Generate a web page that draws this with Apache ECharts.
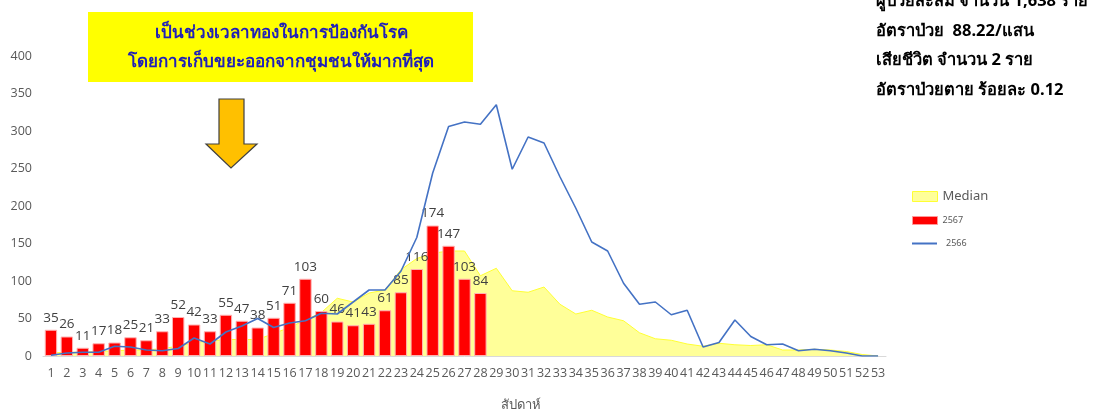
<!DOCTYPE html>
<html>
<head>
<meta charset="utf-8">
<script src="https://cdn.jsdelivr.net/npm/echarts@6/dist/echarts.min.js"></script>
<style>
html,body{margin:0;padding:0;background:#fff;}
#c{width:1094px;height:412px;}
</style>
</head>
<body>
<div id="c"></div>
<script>
const weeks = ['1','2','3','4','5','6','7','8','9','10','11','12','13','14','15','16','17','18','19','20','21','22','23','24','25','26','27','28','29','30','31','32','33','34','35','36','37','38','39','40','41','42','43','44','45','46','47','48','49','50','51','52','53'];
const median = [4,5,5,6,7,8,8,10,13,18,20,22,22,22,30,38,48,58,77,72,84,88,115,130,137,140,140,107,117,87,85,92,69,56,61,52,47,31,23,21,16,13,17,15,14,15,8,8,9,8,6,2,0];
const y2567 = [35,26,11,17,18,25,21,33,52,42,33,55,47,38,51,71,103,60,46,41,43,61,85,116,174,147,103,84];
const y2566 = [1,4,5,5,13,12,8,7,10,24,16,32,40,50,38,44,47,57,56,72,88,88,113,158,244,306,312,309,335,249,292,284,239,197,152,140,97,69,72,55,61,12,18,48,26,15,16,7,9,7,4,0,0];
const yTicks = {min:0, max:400, interval:50};
const summary = ['ผู้ป่วยสะสม จำนวน 1,638 ราย','อัตราป่วย  88.22/แสน','เสียชีวิต จำนวน 2 ราย','อัตราป่วยตาย ร้อยละ 0.12'];
const boxLines = ['เป็นช่วงเวลาทองในการป้องกันโรค','โดยการเก็บขยะออกจากชุมชนให้มากที่สุด'];
const xName = 'สัปดาห์';

const FONT = "Tahoma, 'Noto Sans', 'DejaVu Sans', sans-serif";
const chart = echarts.init(document.getElementById('c'), null, {renderer:'canvas'});
const summaryGraphics = summary.map((t,i)=>({
  type:'text', left:876, top: -7 + i*29.5,
  style:{text:t, font:"bold 16.5px "+FONT, fill:'#000'}
}));
chart.setOption({
  animation:false,
  backgroundColor:'#fff',
  textStyle:{fontFamily:FONT},
  grid:{left:43, right:208, top:56, bottom:56, containLabel:false},
  legend:[
    {left:907, top:185, itemWidth:25, itemHeight:10, orient:'vertical',
     data:[{name:'Median', icon:'rect', itemStyle:{color:'#FFFF99', borderColor:'#FFFF33', borderWidth:1}, textStyle:{fontSize:13, color:'#595959'}}]},
    {left:907, top:211, itemWidth:25, itemHeight:8, orient:'vertical',
     data:[{name:'2567', icon:'rect', itemStyle:{color:'#FF0000', borderColor:'#FF9999', borderWidth:1}, textStyle:{fontSize:9, color:'#595959'}}]},
    {left:907, top:234, itemWidth:25, itemHeight:2, orient:'vertical',
     data:[{name:'2566', icon:'rect', itemStyle:{color:'#4472C4', borderWidth:0}, textStyle:{fontSize:9, color:'#595959', padding:[0,0,0,4]}}]}
  ],
  xAxis:{
    type:'category', data:weeks, boundaryGap:true,
    axisLine:{lineStyle:{color:'#D9D9D9'}}, axisTick:{show:false},
    axisLabel:{color:'#595959', fontSize:12.5, interval:0, margin:11, fontFamily:"'Open Sans', sans-serif"}
  },
  yAxis:{
    type:'value', min:yTicks.min, max:yTicks.max, interval:yTicks.interval,
    splitLine:{show:false}, axisLine:{show:false}, axisTick:{show:false},
    axisLabel:{color:'#595959', fontSize:12.5, margin:11, fontFamily:"'Open Sans', sans-serif"}
  },
  series:[
    {name:'Median', type:'line', data:median, symbol:'none', z:1,
     lineStyle:{color:'#FFFF33', width:1}, areaStyle:{color:'#FFFF99', opacity:1}, itemStyle:{color:'#FFFF99'}},
    {name:'2567', type:'bar', data:y2567, barCategoryGap:'22%', z:2,
     itemStyle:{color:'#FF0000', borderColor:'#FFB3B3', borderWidth:1},
     label:{show:true, position:'top', color:'#404040', fontSize:13.5, distance:5, fontFamily:"'Open Sans', sans-serif"}},
    {name:'2566', type:'line', data:y2566, symbol:'none', z:3,
     lineStyle:{color:'#4472C4', width:1.6}, itemStyle:{color:'#4472C4'}}
  ],
  graphic:[
    {type:'rect', shape:{x:88, y:12, width:385, height:70}, style:{fill:'#FFFF00'}},
    {type:'text', x:281, y:33, style:{text:boxLines[0], font:"bold 17px "+FONT, fill:'#2020B8', textAlign:'center', textVerticalAlign:'middle'}},
    {type:'text', x:281, y:62, style:{text:boxLines[1], font:"bold 17px "+FONT, fill:'#2020B8', textAlign:'center', textVerticalAlign:'middle'}},
    {type:'polygon', shape:{points:[[219,99],[244,99],[244,144],[257,144],[231,168],[206,144],[219,144]]},
     style:{fill:'#FFC000', stroke:'#404040', lineWidth:1.2}},
    {type:'text', x:521, y:405, style:{text:xName, font:"13px "+FONT, fill:'#595959', textAlign:'center', textVerticalAlign:'middle'}}
  ].concat(summaryGraphics)
});
</script>
</body>
</html>
